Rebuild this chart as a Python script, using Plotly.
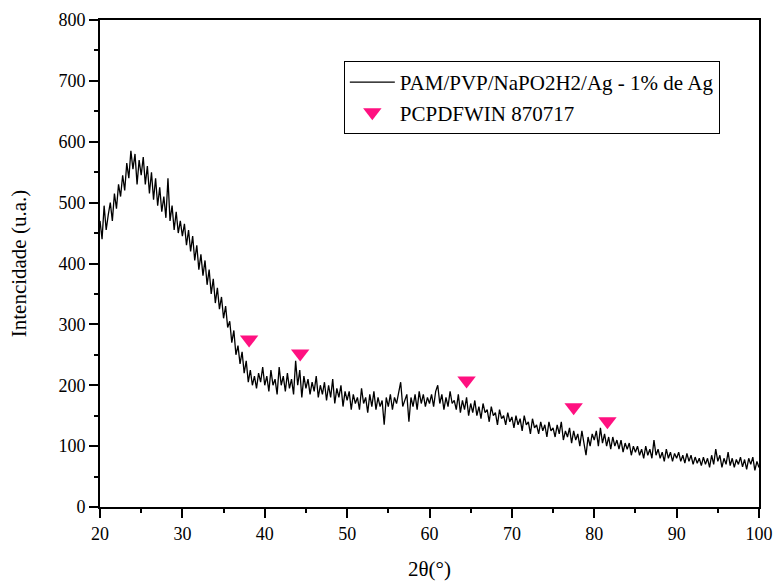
import plotly.graph_objects as go

# 2-theta scan grid (0.25 deg step from 20 to 100)
two_theta = [20 + 0.25 * i for i in range(321)]

intensity = [
    # 20.00 - 24.75
    470, 440, 495, 455, 480, 500, 470, 515, 490, 530, 510, 545, 520, 565, 540, 585, 555, 580, 530, 570,
    # 25.00 - 29.75
    545, 575, 530, 560, 515, 550, 505, 540, 495, 525, 485, 510, 475, 540, 470, 495, 455, 485, 450, 470,
    # 30.00 - 34.75
    445, 465, 430, 455, 420, 445, 405, 430, 390, 415, 380, 405, 365, 390, 350, 375, 335, 360, 325, 345,
    # 35.00 - 39.75
    310, 330, 295, 305, 270, 290, 250, 265, 235, 255, 220, 240, 205, 225, 200, 215, 195, 220, 205, 230,
    # 40.00 - 44.75
    200, 215, 190, 225, 200, 210, 185, 230, 200, 215, 190, 220, 195, 210, 185, 240, 200, 225, 180, 215,
    # 45.00 - 49.75
    195, 210, 185, 205, 190, 215, 180, 200, 185, 205, 175, 200, 180, 210, 170, 195, 180, 200, 165, 190,
    # 50.00 - 54.75
    175, 190, 160, 185, 170, 180, 160, 195, 170, 180, 155, 185, 165, 190, 160, 180, 165, 175, 135, 180,
    # 55.00 - 59.75
    165, 185, 160, 180, 170, 190, 205, 165, 175, 185, 140, 180, 165, 185, 160, 190, 170, 185, 165, 180,
    # 60.00 - 64.75
    170, 185, 165, 190, 200, 170, 185, 160, 180, 165, 190, 170, 175, 160, 185, 155, 175, 160, 180, 150,
    # 65.00 - 69.75
    170, 155, 175, 150, 165, 145, 170, 155, 160, 140, 165, 150, 155, 135, 160, 145, 150, 135, 155, 140,
    # 70.00 - 74.75
    148, 130, 150, 135, 145, 125, 150, 135, 140, 120, 145, 130, 135, 120, 140, 125, 135, 115, 140, 125,
    # 75.00 - 79.75
    130, 115, 135, 120, 140, 110, 125, 115, 130, 105, 125, 110, 120, 100, 125, 105, 85, 115, 100, 120,
    # 80.00 - 84.75
    110, 125, 100, 130, 105, 120, 100, 115, 95, 115, 100, 110, 95, 110, 90, 105, 95, 105, 85, 100,
    # 85.00 - 89.75
    90, 100, 85, 95, 80, 100, 85, 95, 80, 110, 85, 95, 80, 90, 75, 95, 80, 90, 75, 88,
    # 90.00 - 94.75
    80, 90, 75, 85, 72, 88, 75, 85, 70, 82, 72, 80, 68, 82, 70, 80, 65, 85, 70, 95,
    # 95.00 - 99.75
    75, 85, 65, 80, 70, 90, 68, 80, 65, 78, 70, 82, 66, 78, 62, 80, 70, 82, 60, 75,
    # 100.00
    65,
]

ref_theta = [38.1, 44.3, 64.5, 77.5, 81.6]
ref_marker_y = [275, 252, 208, 164, 141]

series_name = "PAM/PVP/NaPO2H2/Ag - 1% de Ag"
ref_name = "PCPDFWIN 870717"

font_family = "Liberation Serif"

fig = go.Figure()
fig.add_trace(go.Scatter(
    x=two_theta, y=intensity, mode="lines", name=series_name,
    line=dict(color="black", width=1.3),
))
fig.add_trace(go.Scatter(
    x=ref_theta, y=ref_marker_y, mode="markers", name=ref_name,
    marker=dict(symbol="triangle-down", size=16, color="#ff1080", line=dict(width=0)),
))

axis_common = dict(
    showline=True, linecolor="black", linewidth=2, mirror=True,
    ticks="outside", ticklen=9, tickwidth=2, tickcolor="black",
    showgrid=False, zeroline=False, automargin=False,
    tickfont=dict(family=font_family, size=18, color="black"),
)

fig.update_layout(
    width=776, height=581,
    margin=dict(l=100, r=17, t=20, b=74),
    paper_bgcolor="white", plot_bgcolor="white",
    font=dict(family=font_family, color="black"),
    xaxis=dict(
        range=[20, 100], dtick=10, tick0=20,
        minor=dict(ticks="outside", dtick=5, ticklen=4, tickwidth=2, tickcolor="black"),
        title=dict(text="2θ(°)", font=dict(family=font_family, size=21), standoff=22),
        **axis_common,
    ),
    yaxis=dict(
        range=[0, 800], dtick=100, tick0=0,
        minor=dict(ticks="outside", dtick=50, ticklen=4, tickwidth=2, tickcolor="black"),
        title=dict(text="Intencidade (u.a.)", font=dict(family=font_family, size=21), standoff=26),
        **axis_common,
    ),
    legend=dict(
        x=0.37, y=0.916, xanchor="left", yanchor="top",
        bordercolor="black", borderwidth=1, bgcolor="white",
        font=dict(family=font_family, size=21, color="black"),
        tracegroupgap=0, itemwidth=45,
    ),
    showlegend=True,
)

fig.write_html("out.html")
